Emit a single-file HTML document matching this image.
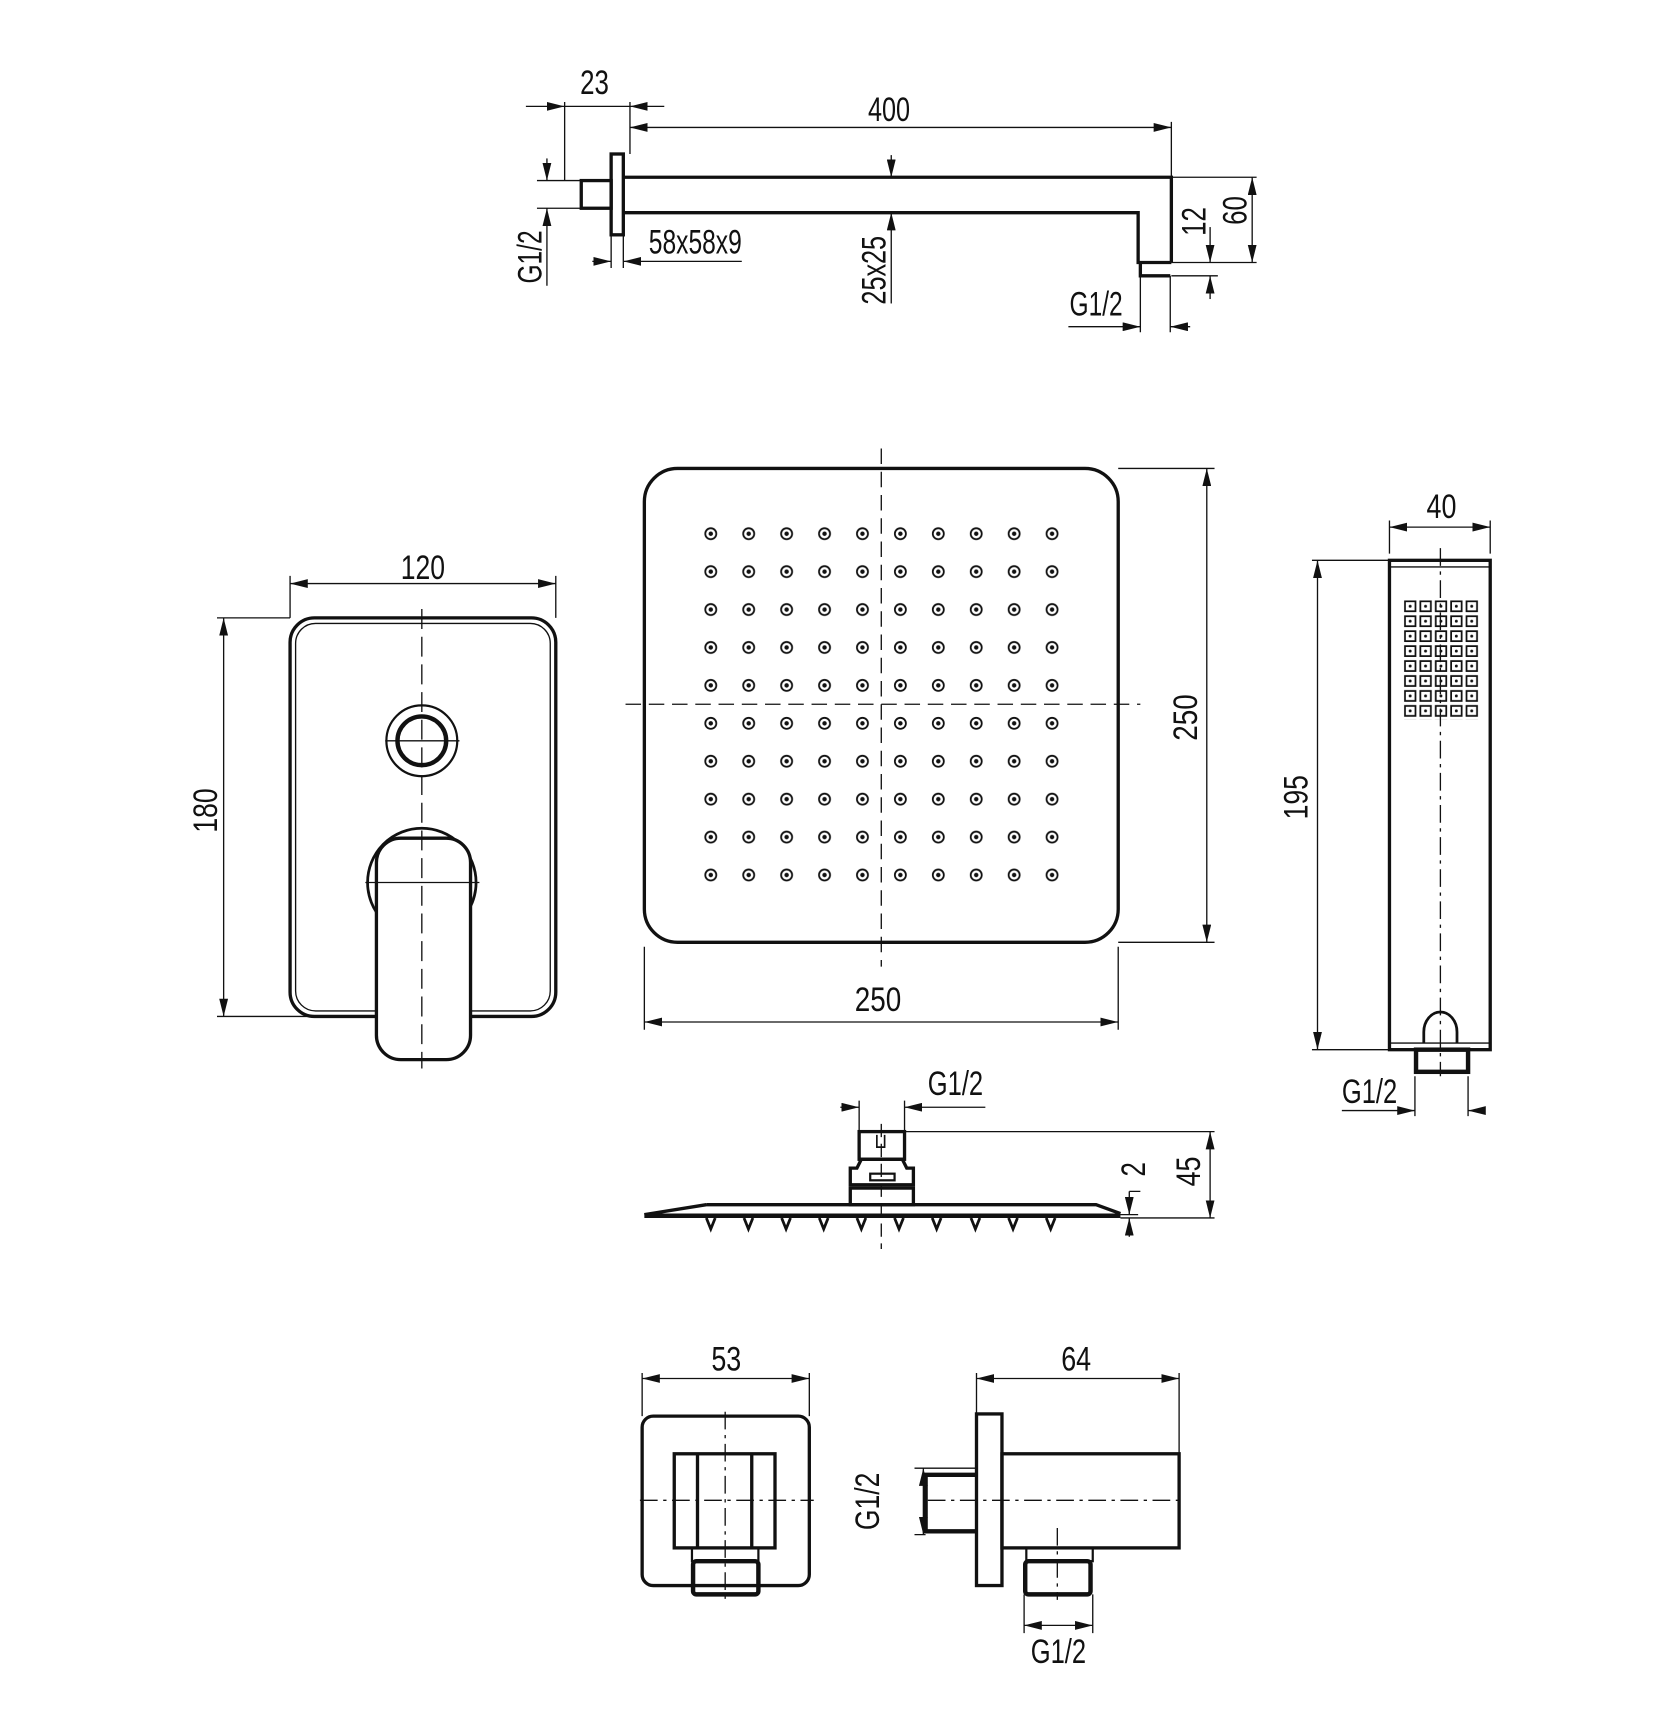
<!DOCTYPE html>
<html><head><meta charset="utf-8"><style>
html,body{margin:0;padding:0;background:#fff}
svg{display:block}
text{font-family:"Liberation Sans",sans-serif;font-size:31px;fill:#111}
</style></head><body>
<svg width="1674" height="1734" viewBox="0 0 1512 1566" xmlns="http://www.w3.org/2000/svg">
<defs>
<marker id="a" viewBox="0 0 16 8" refX="16" refY="4" markerWidth="16" markerHeight="8" markerUnits="userSpaceOnUse" orient="auto-start-reverse"><path d="M0,0 L16,4 L0,8z" fill="#111"/></marker>
<pattern id="dots" patternUnits="userSpaceOnUse" x="625" y="465" width="34.25" height="34.25"><circle cx="17" cy="17" r="5" fill="none" stroke="#111" stroke-width="1.6"/><circle cx="17" cy="17" r="2" fill="#111"/></pattern>
<pattern id="sq" patternUnits="userSpaceOnUse" x="1268" y="542" width="13.9" height="13.5"><rect x="1" y="1" width="9.5" height="9" fill="none" stroke="#111" stroke-width="1.6"/><circle cx="5.7" cy="5.5" r="1.3" fill="#111"/></pattern>
</defs>
<g fill="none" stroke="#111" stroke-width="1.2">
<!-- TOP ARM -->
<g stroke-width="3"><rect x="525" y="163" width="27" height="25"/><rect x="552" y="139" width="11" height="73"/>
<path d="M563,160 H1058 V237 M563,192 H1028 V237 H1058 M1030,237 V249 H1057"/></g>
<path d="M510,92 V163 M569,92 V139 M1058,110 V160"/>
<line x1="475" y1="96" x2="510" y2="96" marker-end="url(#a)"/><line x1="600" y1="96" x2="569" y2="96" marker-end="url(#a)"/><line x1="510" y1="96" x2="569" y2="96"/>
<line x1="569" y1="115" x2="1058" y2="115" marker-start="url(#a)" marker-end="url(#a)"/>
<path d="M485,163 H525 M485,188 H525"/>
<line x1="494" y1="143" x2="494" y2="163" marker-end="url(#a)"/><line x1="494" y1="258" x2="494" y2="188" marker-end="url(#a)"/>
<path d="M552,212 V242 M563,212 V242"/>
<line x1="535" y1="236" x2="552" y2="236" marker-end="url(#a)"/><line x1="670" y1="236" x2="563" y2="236" marker-end="url(#a)"/>
<line x1="805" y1="140" x2="805" y2="160" marker-end="url(#a)"/><line x1="805" y1="274" x2="805" y2="192" marker-end="url(#a)"/>
<path d="M1058,160 H1135 M1058,237 H1135 M1058,249 H1100"/>
<line x1="1131" y1="160" x2="1131" y2="237" marker-start="url(#a)" marker-end="url(#a)"/>
<line x1="1093" y1="205" x2="1093" y2="237" marker-end="url(#a)"/><line x1="1093" y1="270" x2="1093" y2="249" marker-end="url(#a)"/>
<path d="M1030,249 V300 M1057,249 V300"/>
<line x1="965" y1="295" x2="1030" y2="295" marker-end="url(#a)"/><line x1="1075" y1="295" x2="1057" y2="295" marker-end="url(#a)"/>
<!-- MIXER -->
<rect x="262" y="558" width="240" height="360" rx="22" stroke-width="3"/>
<rect x="267" y="563" width="230" height="350" rx="18" stroke-width="1.2"/>
<circle cx="381" cy="669" r="32" stroke-width="2"/><circle cx="381" cy="669" r="22" stroke-width="4"/>
<path d="M348,669 H415"/>
<circle cx="381" cy="797" r="49" stroke-width="2.5"/>
<rect x="340" y="757" width="85" height="200" rx="22" stroke-width="3" fill="#fff"/>
<path d="M330,797 H433"/>
<path d="M381,550 V965" stroke-dasharray="18,7"/>
<path d="M262,520 V558 M502,520 V558"/>
<line x1="262" y1="527" x2="502" y2="527" marker-start="url(#a)" marker-end="url(#a)"/>
<path d="M196,558 H262 M196,918 H340"/>
<line x1="202" y1="558" x2="202" y2="918" marker-start="url(#a)" marker-end="url(#a)"/>
<!-- SHOWER HEAD TOP -->
<rect x="582" y="423" width="428" height="428" rx="30" stroke-width="3"/>
<rect x="626" y="465" width="342" height="342" fill="url(#dots)" stroke="none"/>
<path d="M796,405 V873 M565,636 H1030" stroke-dasharray="14,7"/>
<path d="M582,855 V930 M1010,855 V930"/>
<line x1="582" y1="923" x2="1010" y2="923" marker-start="url(#a)" marker-end="url(#a)"/>
<path d="M1010,423 H1097 M1010,851 H1097"/>
<line x1="1090" y1="423" x2="1090" y2="851" marker-start="url(#a)" marker-end="url(#a)"/>
<!-- HAND SHOWER -->
<rect x="1255" y="506" width="91" height="442" stroke-width="3"/>
<path d="M1255,512 H1346 M1255,942 H1346"/>
<rect x="1268" y="542" width="69" height="108" fill="url(#sq)" stroke="none"/>
<path d="M1286,942 V932 A15,18 0 0 1 1316,932 V942" stroke-width="2.5"/>
<rect x="1279" y="948" width="47" height="20" stroke-width="4"/>
<path d="M1301,495 V972" stroke-dasharray="16,5,3,5"/>
<path d="M1255,470 V500 M1346,470 V500"/>
<line x1="1255" y1="476" x2="1346" y2="476" marker-start="url(#a)" marker-end="url(#a)"/>
<path d="M1185,506 H1255 M1185,948 H1255"/>
<line x1="1190" y1="506" x2="1190" y2="948" marker-start="url(#a)" marker-end="url(#a)"/>
<path d="M1278,972 V1008 M1326,972 V1008"/>
<line x1="1212" y1="1003" x2="1278" y2="1003" marker-end="url(#a)"/><line x1="1340" y1="1003" x2="1326" y2="1003" marker-end="url(#a)"/>
<!-- SHOWER HEAD SIDE -->
<g stroke-width="3">
<rect x="776" y="1022" width="41" height="25"/>
<path d="M778,1047 H815 L819,1055 H825 V1070 H768 V1055 H774z" />
<rect x="768" y="1073" width="57" height="15"/>
<path d="M638,1088 H990 L1012,1096 M638,1088 L582,1097"/>
<path d="M582,1098 H1012" stroke-width="4"/>
</g>
<path d="M792,1025 V1036 H799 V1025" stroke-width="1.5"/>
<rect x="786" y="1060" width="22" height="6" stroke-width="2"/>
<g stroke-width="2.5"><path d="M638,1100 l4,10 l4,-10 M672,1100 l4,10 l4,-10 M706,1100 l4,10 l4,-10 M740,1100 l4,10 l4,-10 M774,1100 l4,10 l4,-10 M808,1100 l4,10 l4,-10 M842,1100 l4,10 l4,-10 M877,1100 l4,10 l4,-10 M911,1100 l4,10 l4,-10 M945,1100 l4,10 l4,-10"/></g>
<path d="M796,1015 V1128" stroke-dasharray="12,6"/>
<path d="M776,994 V1022 M817,994 V1022"/>
<line x1="759" y1="1000" x2="776" y2="1000" marker-end="url(#a)"/><line x1="890" y1="1000" x2="817" y2="1000" marker-end="url(#a)"/>
<path d="M817,1022 H1097 M1012,1100 H1097 M1012,1097 H1028 M1020,1076 H1030"/>
<line x1="1093" y1="1022" x2="1093" y2="1100" marker-start="url(#a)" marker-end="url(#a)"/>
<line x1="1020" y1="1076" x2="1020" y2="1097" marker-end="url(#a)"/><line x1="1020" y1="1117" x2="1020" y2="1100" marker-end="url(#a)"/>
<!-- WALL OUTLET FRONT -->
<rect x="580" y="1279" width="151" height="153" rx="10" stroke-width="3"/>
<rect x="609" y="1313" width="91" height="85" stroke-width="3"/>
<path d="M630,1313 V1398 M679,1313 V1398" stroke-width="3"/>
<rect x="625" y="1398" width="60" height="12" stroke-width="2"/>
<rect x="626" y="1410" width="59" height="30" rx="3" stroke-width="4"/>
<path d="M655,1275 V1445 M578,1355 H735" stroke-dasharray="16,5,3,5"/>
<path d="M580,1240 V1279 M731,1240 V1279"/>
<line x1="580" y1="1245" x2="731" y2="1245" marker-start="url(#a)" marker-end="url(#a)"/>
<!-- WALL OUTLET SIDE -->
<rect x="882" y="1277" width="23" height="155" stroke-width="3"/>
<rect x="905" y="1313" width="160" height="85" stroke-width="3"/>
<path d="M882,1332 H836 V1383 H882" stroke-width="4"/>
<rect x="927" y="1398" width="60" height="12" stroke-width="2"/>
<rect x="926" y="1410" width="59" height="30" rx="3" stroke-width="4"/>
<path d="M838,1355 H1065 M955,1380 V1445" stroke-dasharray="16,5,3,5"/>
<path d="M882,1240 V1277 M1065,1240 V1313"/>
<line x1="882" y1="1245" x2="1065" y2="1245" marker-start="url(#a)" marker-end="url(#a)"/>
<path d="M826,1326 H882 M826,1386 H836"/>
<line x1="834" y1="1326" x2="834" y2="1386" marker-start="url(#a)" marker-end="url(#a)"/>
<path d="M925,1440 V1475 M987,1440 V1475"/>
<line x1="925" y1="1468" x2="987" y2="1468" marker-start="url(#a)" marker-end="url(#a)"/>
</g>
<!-- TEXT -->
<g text-anchor="middle">
<text x="537" y="85" textLength="26" lengthAdjust="spacingAndGlyphs">23</text>
<text x="803" y="109" textLength="38" lengthAdjust="spacingAndGlyphs">400</text>
<text x="628" y="229" textLength="84" lengthAdjust="spacingAndGlyphs">58x58x9</text>
<text x="990" y="285" textLength="48" lengthAdjust="spacingAndGlyphs">G1/2</text>
<text transform="translate(489,232) rotate(-90)" textLength="48" lengthAdjust="spacingAndGlyphs">G1/2</text>
<text transform="translate(800,244) rotate(-90)" textLength="62" lengthAdjust="spacingAndGlyphs">25x25</text>
<text transform="translate(1089,200) rotate(-90)" textLength="26" lengthAdjust="spacingAndGlyphs">12</text>
<text transform="translate(1126,190) rotate(-90)" textLength="26" lengthAdjust="spacingAndGlyphs">60</text>
<text x="382" y="523" textLength="40" lengthAdjust="spacingAndGlyphs">120</text>
<text transform="translate(196,732) rotate(-90)" textLength="40" lengthAdjust="spacingAndGlyphs">180</text>
<text x="793" y="913" textLength="42" lengthAdjust="spacingAndGlyphs">250</text>
<text transform="translate(1081,648) rotate(-90)" textLength="42" lengthAdjust="spacingAndGlyphs">250</text>
<text x="1302" y="468" textLength="27" lengthAdjust="spacingAndGlyphs">40</text>
<text transform="translate(1181,720) rotate(-90)" textLength="40" lengthAdjust="spacingAndGlyphs">195</text>
<text x="1237" y="996" textLength="50" lengthAdjust="spacingAndGlyphs">G1/2</text>
<text x="863" y="989" textLength="50" lengthAdjust="spacingAndGlyphs">G1/2</text>
<text transform="translate(1034,1056) rotate(-90)" textLength="13" lengthAdjust="spacingAndGlyphs">2</text>
<text transform="translate(1084,1058) rotate(-90)" textLength="27" lengthAdjust="spacingAndGlyphs">45</text>
<text x="656" y="1238" textLength="27" lengthAdjust="spacingAndGlyphs">53</text>
<text x="972" y="1238" textLength="27" lengthAdjust="spacingAndGlyphs">64</text>
<text transform="translate(794,1356) rotate(-90)" textLength="52" lengthAdjust="spacingAndGlyphs">G1/2</text>
<text x="956" y="1502" textLength="50" lengthAdjust="spacingAndGlyphs">G1/2</text>
</g>
</svg>
</body></html>
